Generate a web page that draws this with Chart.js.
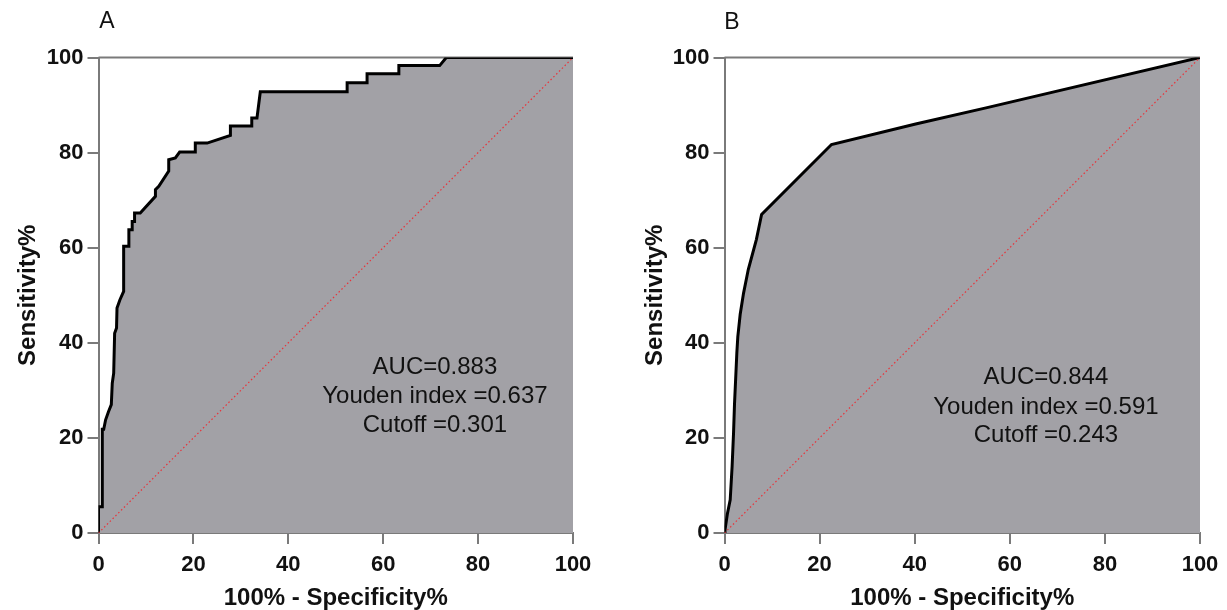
<!DOCTYPE html>
<html>
<head>
<meta charset="utf-8">
<script src="https://cdn.jsdelivr.net/npm/chart.js@4.4.0/dist/chart.umd.min.js"></script>
<style>
  html, body { margin: 0; padding: 0; background: #fff; }
  body { width: 1227px; height: 610px; position: relative; overflow: hidden; }
  canvas { position: absolute; top: 0; }
  #rocA { left: 0; }
  #rocB { left: 613px; }
</style>
</head>
<body>
<canvas id="rocA" width="610" height="610"></canvas>
<canvas id="rocB" width="614" height="610"></canvas>
<script>
// ---- data ----
const tickValues = [0, 20, 40, 60, 80, 100];
const xTitle = '100% - Specificity%';
const yTitle = 'Sensitivity%';

const rocAx = [0, 0, 0.8, 0.8, 1.1, 1.5, 2.1, 2.7, 2.9, 3.2, 3.4, 3.8, 3.9, 4.5, 5.3, 5.3, 6.4, 6.4, 7.1, 7.1, 7.6, 7.6, 8.8, 12.0, 12.0, 12.7, 14.8, 14.8, 16.2, 17.1, 20.4, 20.4, 22.9, 27.8, 27.8, 32.3, 32.3, 33.4, 34.1, 52.4, 52.4, 56.6, 56.6, 63.3, 63.3, 71.9, 73.3, 100];
const rocAy = [0, 5.5, 5.5, 21.8, 21.8, 23.8, 25.5, 27, 31.5, 33.6, 42, 43.1, 47.3, 49, 50.8, 60.3, 60.3, 63.8, 63.8, 65.5, 65.5, 67.3, 67.3, 70.8, 72.2, 72.9, 76.1, 78.5, 78.9, 80.1, 80.1, 82.0, 82.0, 83.6, 85.6, 85.6, 87.3, 87.3, 92.8, 92.8, 94.7, 94.7, 96.6, 96.6, 98.3, 98.3, 100, 100];
const rocBx = [0, 0.1, 0.6, 1.2, 1.6, 1.9, 2.1, 2.4, 2.6, 2.8, 3.3, 4.0, 5.0, 6.7, 7.8, 22.5, 40.2, 55, 100];
const rocBy = [0, 0.6, 4, 7, 14, 21, 27, 33.6, 38, 41.3, 46, 50.4, 55.4, 61.7, 67.0, 81.7, 86.0, 89.4, 100];
const diagX = [0, 100];
const diagY = [0, 100];

const panelA = 'A';
const panelB = 'B';
const statsA = ['AUC=0.883', 'Youden index =0.637', 'Cutoff =0.301'];
const statsB = ['AUC=0.844', 'Youden index =0.591', 'Cutoff =0.243'];

const FONT = "'Liberation Sans', Arial, sans-serif";
const AXIS_GRAY = '#7a7a7a';
const FILL_GRAY = '#a2a1a6';

function toPoints(xs, ys) {
    return xs.map((x, i) => ({ x: x, y: ys[i] }));
}

// frame line on top + text labels
const rocDecor = {
    id: 'rocDecor',
    beforeDatasetsDraw(chart) {
        const { ctx, chartArea } = chart;
        ctx.save();
        ctx.strokeStyle = AXIS_GRAY;
        ctx.lineWidth = 2;
        ctx.beginPath();
        ctx.moveTo(chartArea.left, chartArea.top);
        ctx.lineTo(chartArea.right, chartArea.top);
        ctx.stroke();
        ctx.restore();
    },
    afterDraw(chart, args, opts) {
        const { ctx, scales } = chart;
        ctx.save();
        ctx.fillStyle = '#111';
        ctx.textAlign = 'center';
        ctx.textBaseline = 'middle';
        ctx.font = '24px ' + FONT;
        opts.stats.forEach((t, i) => {
            ctx.fillText(t, scales.x.getPixelForValue(opts.statX), scales.y.getPixelForValue(opts.statY[i]));
        });
        ctx.font = '23px ' + FONT;
        ctx.fillText(opts.panel, opts.panelPos[0], opts.panelPos[1]);
        ctx.restore();
    }
};

function makeRoc(id, xs, ys, cfg) {
    const axisCommon = {
        type: 'linear',
        min: 0,
        max: 100,
        afterBuildTicks: s => { s.ticks = tickValues.map(v => ({ value: v })); },
        grid: { drawOnChartArea: false, drawTicks: true, tickLength: 11, color: AXIS_GRAY, lineWidth: 2 },
        border: { display: true, color: AXIS_GRAY, width: 2 },
        ticks: { color: '#111', font: { family: FONT, size: 22, weight: 'bold' } }
    };
    return new Chart(document.getElementById(id), {
        type: 'scatter',
        data: {
            datasets: [
                {
                    data: toPoints(xs, ys),
                    order: 2,
                    showLine: true,
                    borderColor: '#000',
                    borderWidth: 3,
                    backgroundColor: FILL_GRAY,
                    fill: 'origin',
                    pointRadius: 0,
                    tension: 0
                },
                {
                    data: toPoints(diagX, diagY),
                    order: 1,
                    showLine: true,
                    borderColor: '#e8333a',
                    borderWidth: 1.2,
                    borderDash: [1.5, 2.5],
                    pointRadius: 0,
                    fill: false
                }
            ]
        },
        options: {
            responsive: false,
            animation: false,
            devicePixelRatio: 1,
            layout: { padding: { top: 57.5, right: cfg.padRight, bottom: 0, left: 0 } },
            plugins: {
                legend: { display: false },
                tooltip: { enabled: false },
                rocDecor: cfg.decor
            },
            scales: {
                x: Object.assign({}, axisCommon, {
                    position: 'bottom',
                    ticks: Object.assign({}, axisCommon.ticks, { padding: 8, maxRotation: 0 }),
                    title: { display: true, text: xTitle, color: '#111', padding: { top: 0, bottom: 0 },
                             font: { family: FONT, size: 24, weight: 'bold', lineHeight: 1 } },
                    afterFit: s => { s.height = 77; }
                }),
                y: Object.assign({}, axisCommon, {
                    position: 'left',
                    ticks: Object.assign({}, axisCommon.ticks, { padding: 4 }),
                    title: { display: true, text: yTitle, color: '#111', padding: { top: cfg.titlePad, bottom: 0 },
                             font: { family: FONT, size: 24, weight: 'bold', lineHeight: 1 } },
                    afterFit: s => { s.width = cfg.axisWidth; }
                })
            }
        },
        plugins: [rocDecor]
    });
}

makeRoc('rocA', rocAx, rocAy, {
    padRight: 37, axisWidth: 98.5, titlePad: 16,
    decor: { stats: statsA, statX: 70.9, statY: [34.9, 28.7, 22.7], panel: panelA, panelPos: [107, 22] }
});
makeRoc('rocB', rocBx, rocBy, {
    padRight: 27, axisWidth: 111.5, titlePad: 30,
    decor: { stats: statsB, statX: 67.6, statY: [32.7, 26.4, 20.5], panel: panelB, panelPos: [119, 23] }
});
</script>
</body>
</html>
